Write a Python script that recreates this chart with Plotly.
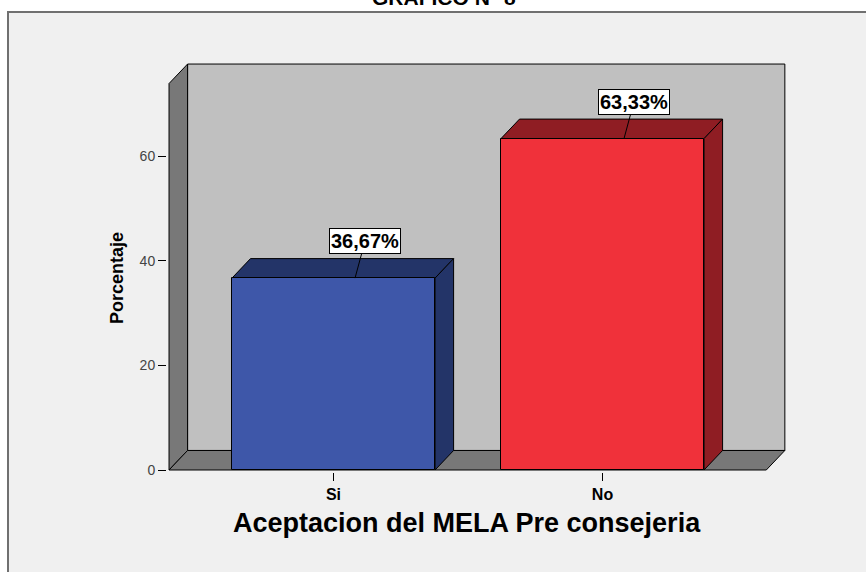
import plotly.graph_objects as go

# ---- data ----
categories = ["Si", "No"]
values = [36.67, 63.33]
value_labels = ["36,67%", "63,33%"]
front_colors = ["#3E57A9", "#F0313A"]
shade_colors = ["#233468", "#8F1D23"]
y_ticks = [0, 20, 40, 60]
chart_title = "GRAFICO N° 8"
x_title = "Aceptacion del MELA Pre consejeria"
y_title = "Porcentaje"

# ---- layout constants ----
W, H = 866, 572
PL, PR, PT, PB = 167, 787, 62, 472          # plot area in px
X_RANGE = [-0.619, 1.686]
Y_RANGE = [-0.382, 77.97]
BAR_W = 0.755
DX = 0.069          # 3D depth (x units)
DY = 3.73           # 3D depth (y units)
WALL_X0 = -0.6115
WALL_X1 = 1.678
WALL_TOP = 77.58
FONT = "Arial, Liberation Sans, sans-serif"

def px_to_paper(px, py):
    return (px - PL) / (PR - PL), (PB - py) / (PB - PT)

xs = list(range(len(categories)))

fig = go.Figure()
fig.add_trace(go.Bar(
    x=xs, y=values, width=BAR_W,
    marker=dict(color=front_colors, line=dict(color="black", width=1)),
    hoverinfo="skip", showlegend=False,
))

shapes = []
# outer frame
fx0, fy0 = px_to_paper(8, 12)
fx1, fy1 = px_to_paper(W + 10, H + 10)
shapes.append(dict(type="rect", xref="paper", yref="paper", x0=fx0, y0=fy0, x1=fx1, y1=fy1,
                   fillcolor="#F0F0F0", line=dict(color="#707070", width=2), layer="below"))
# back wall
shapes.append(dict(type="rect", xref="x", yref="y", x0=WALL_X0 + DX, y0=DY, x1=WALL_X1, y1=WALL_TOP,
                   fillcolor="#C0C0C0", line=dict(color="black", width=1), layer="below"))
# left wall
shapes.append(dict(type="path", xref="x", yref="y",
                   path=f"M {WALL_X0},0 L {WALL_X0},{WALL_TOP - DY} L {WALL_X0 + DX},{WALL_TOP} L {WALL_X0 + DX},{DY} Z",
                   fillcolor="#787878", line=dict(color="black", width=1), layer="below"))
# floor
shapes.append(dict(type="path", xref="x", yref="y",
                   path=f"M {WALL_X0},0 L {WALL_X1 - DX},0 L {WALL_X1},{DY} L {WALL_X0 + DX},{DY} Z",
                   fillcolor="#787878", line=dict(color="black", width=1), layer="below"))
# bar top and side faces
for i, v in enumerate(values):
    a, b = i - BAR_W / 2, i + BAR_W / 2
    shapes.append(dict(type="path", xref="x", yref="y",
                       path=f"M {a},{v} L {b},{v} L {b + DX},{v + DY} L {a + DX},{v + DY} Z",
                       fillcolor=shade_colors[i], line=dict(color="black", width=1), layer="below"))
    shapes.append(dict(type="path", xref="x", yref="y",
                       path=f"M {b},0 L {b},{v} L {b + DX},{v + DY} L {b + DX},{DY} Z",
                       fillcolor=shade_colors[i], line=dict(color="black", width=1), layer="below"))

annotations = []
for i, v in enumerate(values):
    annotations.append(dict(
        x=i + 0.08, y=v, xref="x", yref="y", text=f"<b>{value_labels[i]}</b>",
        showarrow=True, arrowhead=0, arrowwidth=1, arrowcolor="black", ax=10, ay=-37,
        standoff=0, bgcolor="white", bordercolor="black", borderwidth=1, borderpad=1,
        font=dict(family=FONT, size=20, color="black"),
    ))
tx, ty = px_to_paper(444, 11)
annotations.append(dict(x=tx, y=ty, xref="paper", yref="paper", text=f"<b>{chart_title}</b>",
                        showarrow=False, xanchor="center", yanchor="bottom",
                        font=dict(family=FONT, size=21, color="black")))
xx, xy = px_to_paper(467, 523)
annotations.append(dict(x=xx, y=xy, xref="paper", yref="paper", text=f"<b>{x_title}</b>",
                        showarrow=False, xanchor="center", yanchor="middle",
                        font=dict(family=FONT, size=27, color="black")))
yx, yy = px_to_paper(117, 278)
annotations.append(dict(x=yx, y=yy, xref="paper", yref="paper", text=f"<b>{y_title}</b>",
                        showarrow=False, xanchor="center", yanchor="middle", textangle=-90,
                        font=dict(family=FONT, size=18, color="black")))

fig.update_layout(
    width=W, height=H,
    margin=dict(l=PL, r=W - PR, t=PT, b=H - PB, pad=0),
    paper_bgcolor="white", plot_bgcolor="#F0F0F0",
    shapes=shapes, annotations=annotations,
    bargap=0, showlegend=False,
    xaxis=dict(range=X_RANGE, tickvals=xs, ticktext=[f"<b>{c}</b>" for c in categories],
               showgrid=False, zeroline=False, showline=False,
               ticks="outside", ticklen=8, tickcolor="black", tickwidth=1,
               tickfont=dict(family=FONT, size=16, color="black"), fixedrange=True),
    yaxis=dict(range=Y_RANGE, tickvals=y_ticks, ticktext=[str(t) for t in y_ticks],
               showgrid=False, zeroline=False, showline=False,
               ticks="outside", ticklen=8, tickcolor="black", tickwidth=1,
               tickfont=dict(family=FONT, size=14, color="#444444"), fixedrange=True),
)

fig.write_html("out.html")
